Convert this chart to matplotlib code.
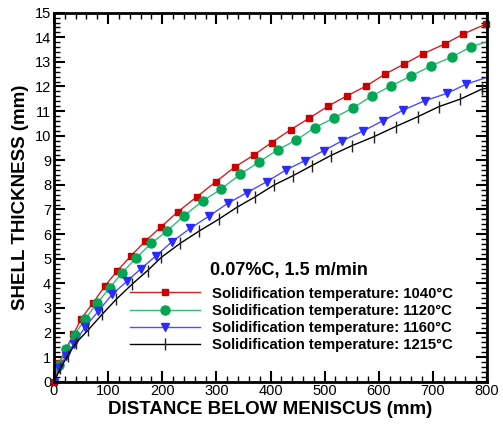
import numpy as np
import matplotlib
matplotlib.use('Agg')
import matplotlib.pyplot as plt
from matplotlib.ticker import MultipleLocator

plt.rcParams['font.family'] = ['Liberation Sans', 'DejaVu Sans']

# shell thickness (mm) vs distance below meniscus (mm)
x_1040 = [0, 9, 21.5, 36, 49.5, 72, 94.5, 117, 142, 169, 198, 229, 264, 299, 335, 369, 402,
          437, 472, 507, 542, 577, 612, 647, 681, 722, 756, 798]
y_1040 = [0, 0.75, 1.31, 1.92, 2.54, 3.20, 3.90, 4.51, 5.11, 5.72, 6.30, 6.91, 7.52, 8.13,
          8.74, 9.21, 9.72, 10.24, 10.72, 11.21, 11.63, 12.02, 12.51, 12.91, 13.32, 13.73,
          14.13, 14.54]

x_1120 = [0, 9, 23, 38, 57, 80, 103, 125.5, 151, 180, 209, 240, 275, 308, 344, 378, 413,
          448, 482, 518, 553, 587, 622, 660, 696, 736, 771, 800]
y_1120 = [0, 0.68, 1.31, 1.91, 2.53, 3.20, 3.82, 4.42, 5.02, 5.63, 6.13, 6.74, 7.35, 7.82,
          8.43, 8.92, 9.42, 9.83, 10.33, 10.73, 11.14, 11.61, 12.02, 12.43, 12.83, 13.21,
          13.62, 13.82]

x_1160 = [0, 10, 22, 37, 58, 82, 107.5, 135, 160, 188, 218, 252, 287, 321, 356, 393, 428,
          463, 498, 533, 571, 608, 645, 685, 726, 762, 800]
y_1160 = [0, 0.55, 1.05, 1.55, 2.24, 2.87, 3.55, 4.09, 4.58, 5.11, 5.69, 6.24, 6.74, 7.25,
          7.68, 8.13, 8.60, 8.98, 9.39, 9.80, 10.19, 10.61, 11.04, 11.42, 11.72, 12.10, 12.37]

x_1215 = [0, 12, 25, 40, 63, 89, 115, 144, 173, 198.5, 233.5, 268.6, 304, 338, 372, 407,
          442, 476, 511, 550, 591, 631, 672, 711, 751, 790, 800]
y_1215 = [0, 0.55, 1.05, 1.56, 2.10, 2.74, 3.35, 3.96, 4.52, 5.06, 5.63, 6.13, 6.60, 7.09,
          7.52, 8.00, 8.38, 8.78, 9.19, 9.59, 9.96, 10.37, 10.77, 11.18, 11.49, 11.89, 11.93]

labels = ['Solidification temperature: 1040°C',
          'Solidification temperature: 1120°C',
          'Solidification temperature: 1160°C',
          'Solidification temperature: 1215°C']

fig = plt.figure(figsize=(5.03, 4.26), dpi=100)
ax = fig.add_axes([54/503, 44.3/426, 433/503, 369/426])

ax.plot(x_1040, y_1040, color='#d42020', lw=1.0, marker='s', ms=5,
        mfc='#cc0000', mec='#cc0000', label=labels[0], clip_on=False)
ax.plot(x_1120, y_1120, color='#33bb77', lw=1.0, marker='o', ms=6.5,
        mfc='#00a651', mec='#00a651', markevery=slice(0, -1), label=labels[1])
ax.plot(x_1160, y_1160, color='#4d4dff', lw=1.0, marker='v', ms=5.5,
        mfc='#2b2bff', mec='#2b2bff', markevery=slice(0, -1), label=labels[2])
ax.plot(x_1215, y_1215, color='black', lw=1.0, marker='|', ms=8, mew=1.0,
        mec='#222222', markevery=slice(0, -1), label=labels[3])

ax.set_xlim(0, 800)
ax.set_ylim(0, 15)
ax.xaxis.set_major_locator(MultipleLocator(100))
ax.xaxis.set_minor_locator(MultipleLocator(20))
ax.yaxis.set_major_locator(MultipleLocator(1))
ax.yaxis.set_minor_locator(MultipleLocator(0.2))
ax.tick_params(which='both', direction='in', top=True, right=True, labelsize=10.5,
               width=1.5, pad=2)
ax.tick_params(which='major', length=8)
ax.tick_params(which='minor', length=4, width=1.0)
for s in ax.spines.values():
    s.set_linewidth(2)

ax.set_xlabel('DISTANCE BELOW MENISCUS (mm)', fontsize=13.5, fontweight='bold', labelpad=2)
ax.set_ylabel('SHELL THICKNESS (mm)', fontsize=13.5, fontweight='bold', labelpad=4)

ax.text(0.36, 0.301, '0.07%C, 1.5 m/min', transform=ax.transAxes, fontsize=13,
        fontweight='bold', va='center', ha='left')
ax.legend(loc='center left', bbox_to_anchor=(0.1755, 0.1686), frameon=False,
          prop={'weight': 'bold', 'size': 10.7}, handlelength=4.7, handletextpad=0.85,
          labelspacing=0.22, borderpad=0, borderaxespad=0, numpoints=1)

fig.savefig('out.png', dpi=100)
